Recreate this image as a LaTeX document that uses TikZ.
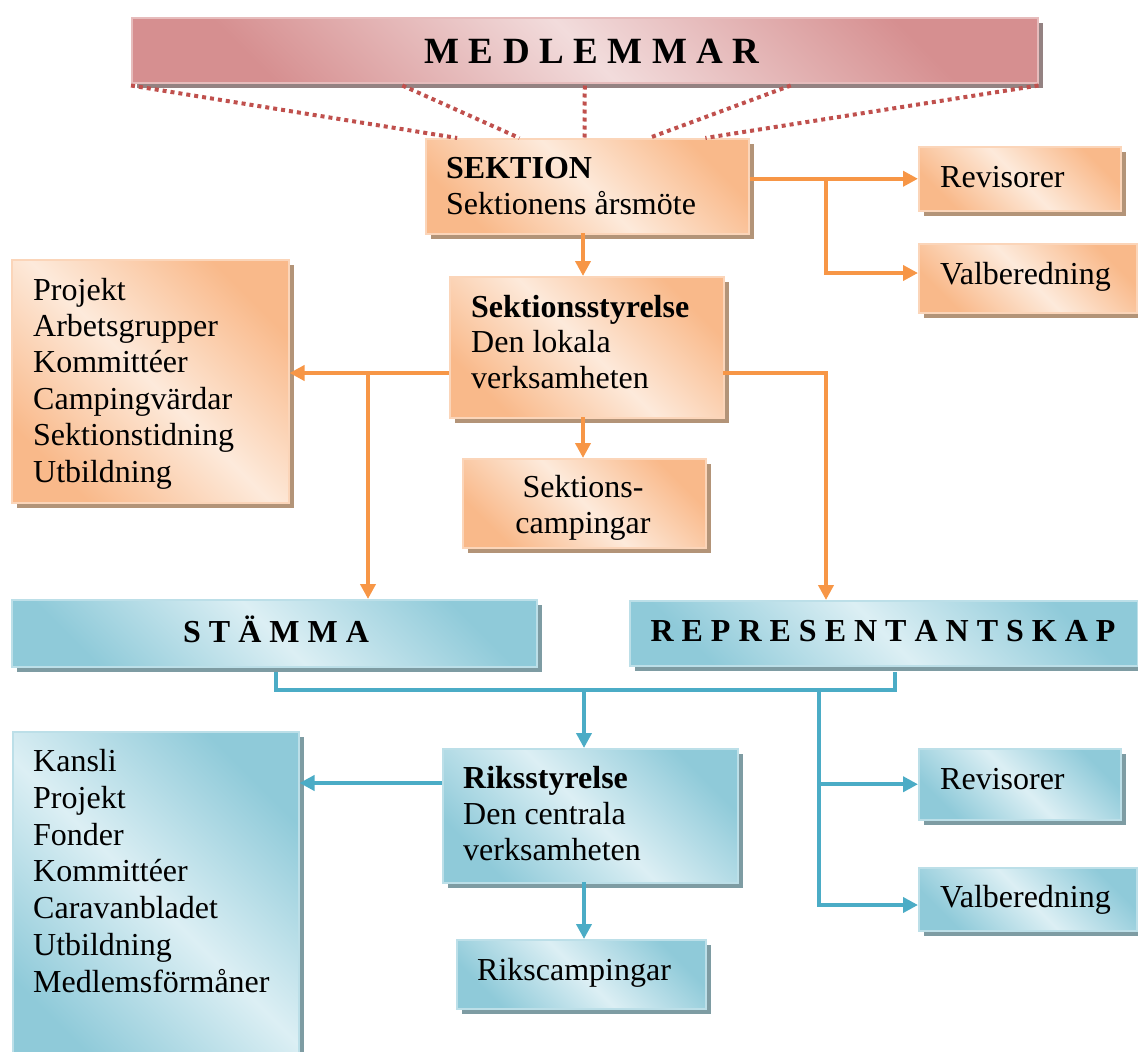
\documentclass[tikz,border=0pt]{standalone}
\usepackage{fontspec}
\setmainfont{Liberation Serif}
\usetikzlibrary{arrows.meta,shadows,calc}
\definecolor{oD}{HTML}{F9B98A}
\definecolor{oL}{HTML}{FDEADB}
\definecolor{oS}{HTML}{B39478}
\definecolor{bD}{HTML}{8FCAD9}
\definecolor{bL}{HTML}{DCEFF4}
\definecolor{bS}{HTML}{7E9CA3}
\definecolor{rD}{HTML}{D68F90}
\definecolor{rL}{HTML}{F2DCDC}
\definecolor{rS}{HTML}{948282}
\definecolor{oLine}{HTML}{F79646}
\definecolor{bLine}{HTML}{4BACC6}
\definecolor{rLine}{HTML}{C0504D}
\newcommand{\gapx}[1]{\hspace{#1pt}}
\tikzset{
  boxbase/.style={line width=1.5pt, inner sep=0pt, anchor=north west},
  obox/.style={boxbase, draw=oD!60!white, top color=oD, bottom color=oD, middle color=oL, shading angle=-45,
    drop shadow={shadow xshift=5pt, shadow yshift=-5pt, fill=oS, opacity=1}},
  bbox/.style={boxbase, draw=bD!60!white, top color=bD, bottom color=bD, middle color=bL, shading angle=-45,
    drop shadow={shadow xshift=5pt, shadow yshift=-5pt, fill=bS, opacity=1}},
  rbox/.style={boxbase, draw=rD!60!white, top color=rD, bottom color=rD, middle color=rL, shading angle=-45,
    drop shadow={shadow xshift=5pt, shadow yshift=-5pt, fill=rS, opacity=1}},
  txt/.style={inner sep=0pt, anchor=base west, align=left, font=\fontsize{32}{36.5}\selectfont},
  ttl/.style={inner sep=0pt, anchor=base, font=\fontsize{32}{36.5}\selectfont\bfseries},
  oline/.style={draw=oLine, line width=4pt},
  oarr/.style={oline, -{Triangle[length=15pt,width=15pt]}},
  bline/.style={draw=bLine, line width=4pt},
  barr/.style={bline, -{Triangle[length=15pt,width=15pt]}},
  dline/.style={draw=rLine, line width=4pt, dash pattern=on 4pt off 4pt},
}
\begin{document}
\begin{tikzpicture}[x=1pt,y=-1pt]
\useasboundingbox (0,0) rectangle (1138,1052);
% boxes
\node[rbox, minimum width=906pt, minimum height=65pt] (med) at (131,17) {};
\node[obox, minimum width=323pt, minimum height=95pt] (sek) at (425,138) {};
\node[obox, minimum width=202pt, minimum height=64pt] (rev1) at (918,146) {};
\node[obox, minimum width=218pt, minimum height=69pt] (val1) at (918,243) {};
\node[obox, minimum width=274pt, minimum height=141pt] (sty) at (449,276) {};
\node[obox, minimum width=243pt, minimum height=89pt] (sc) at (462,458) {};
\node[obox, minimum width=277pt, minimum height=243pt] (proj) at (11,259) {};
\node[bbox, minimum width=525pt, minimum height=67pt] (stam) at (11,599) {};
\node[bbox, minimum width=508pt, minimum height=65pt] (repr) at (629,600) {};
\node[bbox, minimum width=295pt, minimum height=134pt] (rik) at (442,748) {};
\node[bbox, minimum width=249pt, minimum height=69pt] (rc) at (456,939) {};
\node[bbox, minimum width=286pt, minimum height=340pt] (kan) at (12,731) {};
\node[bbox, minimum width=202pt, minimum height=71pt] (rev2) at (918,748) {};
\node[bbox, minimum width=218pt, minimum height=63pt] (val2) at (918,867) {};
% texts (multi-line nodes: base = last line)
\node[ttl, font=\fontsize{37}{40}\selectfont\bfseries] (tmed) at (592,63)
  {M\gapx{9.5}E\gapx{9.5}D\gapx{9.5}L\gapx{9.5}E\gapx{9.5}M\gapx{9.5}M\gapx{9.5}A\gapx{9.5}R};
\node[txt, font=\fontsize{32}{36}\selectfont] (tsek) at (446,214) {\textbf{SEKTION}\\Sektionens årsmöte};
\node[txt] (trev1) at (940,187) {Revisorer};
\node[txt] (tval1) at (940,284) {Valberedning};
\node[txt, font=\fontsize{32}{35.5}\selectfont] (tsty) at (471,388) {\textbf{Sektionsstyrelse}\\Den lokala\\verksamheten};
\node[txt, anchor=base, align=center, font=\fontsize{32}{36}\selectfont] (tsc) at (583,533) {Sektions-\\campingar};
\node[txt, font=\fontsize{32}{36.4}\selectfont] (tproj) at (33,482) {Projekt\\Arbetsgrupper\\Kommittéer\\Campingvärdar\\Sektionstidning\\Utbildning};
\node[ttl] (tstam) at (276,642) {S\gapx{8}T\gapx{8}Ä\gapx{8}M\gapx{8}M\gapx{8}A};
\node[ttl] (trepr) at (883,641) {R\gapx{8}E\gapx{8}P\gapx{8}R\gapx{8}E\gapx{8}S\gapx{8}E\gapx{8}N\gapx{8}T\gapx{8}A\gapx{8}N\gapx{8}T\gapx{8}S\gapx{8}K\gapx{8}A\gapx{8}P};
\node[txt, font=\fontsize{32}{36}\selectfont] (trik) at (463,860) {\textbf{Riksstyrelse}\\Den centrala\\verksamheten};
\node[txt] (trc) at (477,980) {Rikscampingar};
\node[txt, font=\fontsize{32}{36.7}\selectfont] (tkan) at (33,992) {Kansli\\Projekt\\Fonder\\Kommittéer\\Caravanbladet\\Utbildning\\Medlemsförmåner};
\node[txt] (trev2) at (940,789) {Revisorer};
\node[txt] (tval2) at (940,907) {Valberedning};
% dotted links
\foreach \a/\b in {0/0.099, 0.299/0.291, 0.5/0.492, 0.727/0.69, 1/0.864}
  \draw[dline] ($(med.south west)!\a!(med.south east)+(0,2)$) -- ($(sek.north west)!\b!(sek.north east)$);
% orange connectors
\coordinate (b1) at (826,178);
\coordinate (v1) at (918,273);
\draw[oarr] (sek.east |- rev1.west) -- (rev1.west);
\draw[oarr] (b1) |- (v1);
\coordinate (s1) at (583,233);
\coordinate (s2) at (583,417);
\draw[oarr] (s1) -- (s1 |- sty.north);
\draw[oarr] (s2) -- (s2 |- sc.north);
\coordinate (c1) at (449,373);
\coordinate (b2) at (368,373);
\draw[oarr] (c1) -- (proj.east |- c1);
\draw[oarr] (b2) -- (b2 |- stam.north);
\coordinate (c2) at (723,373);
\coordinate (b3) at (826,373);
\draw[oarr] (c2) -- (b3) -- (b3 |- repr.north);
% blue connectors
\coordinate (d1) at (276,690);
\coordinate (d2) at (895,690);
\coordinate (d3) at (584,690);
\coordinate (d4) at (819,690);
\coordinate (e1) at (276,672);
\coordinate (e2) at (895,672);
\coordinate (v2) at (918,905);
\draw[bline] (e1) -- (d1) -- (d2) -- (e2);
\draw[barr] (d3) -- (d3 |- rik.north);
\draw[barr] (d4) |- (rev2.west);
\draw[barr] (d4) |- (v2);
\coordinate (c3) at (442,783);
\coordinate (c4) at (584,882);
\draw[barr] (c3) -- (kan.east |- c3);
\draw[barr] (c4) -- (c4 |- rc.north);
\end{tikzpicture}
\end{document}
